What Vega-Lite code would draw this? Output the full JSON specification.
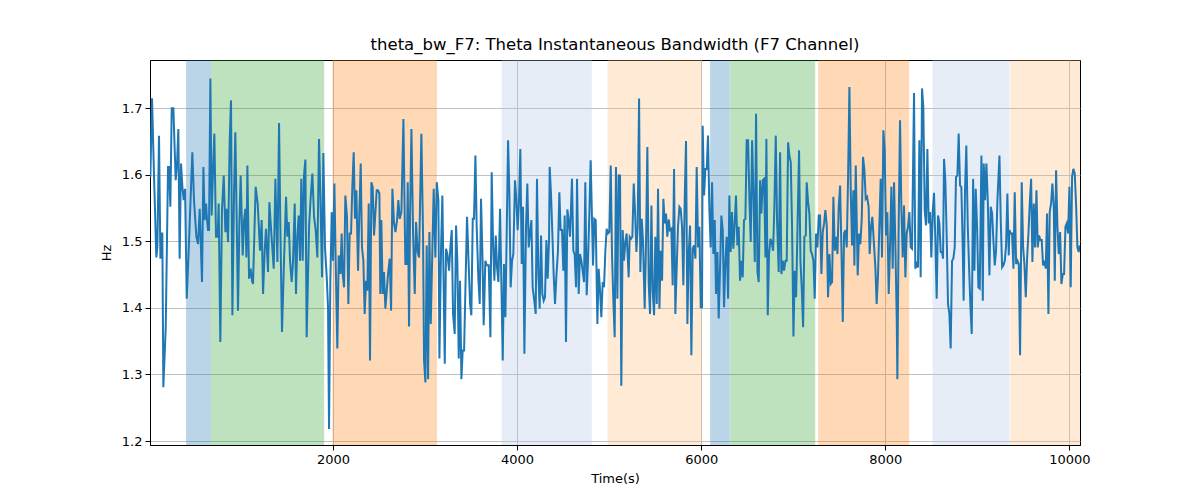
{
  "$schema": "https://vega.github.io/schema/vega-lite/v6.json",
  "description": "theta_bw_F7 instantaneous bandwidth over time with shaded segments",
  "autosize": {"type": "none"},
  "padding": {"left": 150, "top": 60, "right": 120, "bottom": 55},
  "width": 930,
  "height": 385,
  "background": "white",
  "title": {
    "text": "theta_bw_F7: Theta Instantaneous Bandwidth (F7 Channel)",
    "font": "DejaVu Sans",
    "fontSize": 16.5,
    "fontWeight": "normal",
    "color": "black",
    "offset": 7
  },
  "config": {
    "view": {"stroke": "black", "strokeWidth": 1},
    "axis": {
      "labelFont": "DejaVu Sans",
      "titleFont": "DejaVu Sans",
      "labelFontSize": 13,
      "titleFontSize": 13,
      "titleFontWeight": "normal",
      "labelColor": "black",
      "titleColor": "black",
      "domainColor": "black",
      "tickColor": "black",
      "tickSize": 5,
      "labelPadding": 3,
      "grid": true,
      "gridColor": "#b0b0b0",
      "gridWidth": 0.8
    }
  },
  "datasets": {
    "bands": [
      {"s": 410, "e": 668, "k": "a"},
      {"s": 679, "e": 1899, "k": "c"},
      {"s": 2000, "e": 3123, "k": "e"},
      {"s": 3837, "e": 4806, "k": "b"},
      {"s": 4988, "e": 6002, "k": "d"},
      {"s": 6103, "e": 6306, "k": "a"},
      {"s": 6320, "e": 7233, "k": "c"},
      {"s": 7277, "e": 8254, "k": "e"},
      {"s": 8518, "e": 9345, "k": "b"},
      {"s": 9363, "e": 10115, "k": "d"}
    ],
    "sig": [
      {"t":16,"v":1.597},{"t":34,"v":1.715},{"t":56,"v":1.597},{"t":81,"v":1.476},{"t":92,"v":1.491},{"t":110,"v":1.659},{"t":125,"v":1.474},{"t":135,"v":1.512},{"t":146,"v":1.512},{"t":157,"v":1.281},{"t":183,"v":1.371},{"t":208,"v":1.612},{"t":219,"v":1.612},{"t":233,"v":1.552},{"t":248,"v":1.700},{"t":266,"v":1.700},{"t":291,"v":1.592},{"t":306,"v":1.617},{"t":320,"v":1.669},{"t":334,"v":1.474},{"t":349,"v":1.617},{"t":364,"v":1.582},{"t":378,"v":1.562},{"t":393,"v":1.579},{"t":411,"v":1.414},{"t":432,"v":1.486},{"t":450,"v":1.552},{"t":472,"v":1.634},{"t":490,"v":1.562},{"t":516,"v":1.507},{"t":534,"v":1.496},{"t":552,"v":1.549},{"t":577,"v":1.439},{"t":592,"v":1.612},{"t":606,"v":1.532},{"t":621,"v":1.557},{"t":632,"v":1.532},{"t":642,"v":1.517},{"t":653,"v":1.517},{"t":668,"v":1.745},{"t":682,"v":1.539},{"t":697,"v":1.607},{"t":711,"v":1.662},{"t":729,"v":1.507},{"t":747,"v":1.507},{"t":758,"v":1.557},{"t":776,"v":1.349},{"t":794,"v":1.547},{"t":813,"v":1.599},{"t":831,"v":1.514},{"t":842,"v":1.549},{"t":860,"v":1.499},{"t":878,"v":1.652},{"t":892,"v":1.712},{"t":907,"v":1.389},{"t":925,"v":1.572},{"t":939,"v":1.664},{"t":954,"v":1.532},{"t":968,"v":1.396},{"t":983,"v":1.527},{"t":997,"v":1.599},{"t":1019,"v":1.479},{"t":1034,"v":1.532},{"t":1048,"v":1.549},{"t":1059,"v":1.476},{"t":1070,"v":1.614},{"t":1088,"v":1.444},{"t":1106,"v":1.459},{"t":1120,"v":1.441},{"t":1131,"v":1.436},{"t":1146,"v":1.512},{"t":1160,"v":1.582},{"t":1182,"v":1.557},{"t":1207,"v":1.486},{"t":1225,"v":1.532},{"t":1240,"v":1.421},{"t":1258,"v":1.486},{"t":1272,"v":1.519},{"t":1294,"v":1.454},{"t":1309,"v":1.559},
      {"t":1330,"v":1.512},{"t":1356,"v":1.459},{"t":1374,"v":1.594},{"t":1396,"v":1.469},{"t":1414,"v":1.678},{"t":1428,"v":1.522},{"t":1446,"v":1.364},{"t":1468,"v":1.471},{"t":1490,"v":1.567},{"t":1504,"v":1.507},{"t":1519,"v":1.529},{"t":1533,"v":1.471},{"t":1551,"v":1.439},{"t":1566,"v":1.471},{"t":1584,"v":1.557},{"t":1598,"v":1.421},{"t":1613,"v":1.507},{"t":1627,"v":1.539},{"t":1642,"v":1.471},{"t":1656,"v":1.594},{"t":1671,"v":1.471},{"t":1685,"v":1.599},{"t":1700,"v":1.623},{"t":1714,"v":1.356},{"t":1740,"v":1.522},{"t":1758,"v":1.567},{"t":1776,"v":1.602},{"t":1794,"v":1.537},{"t":1812,"v":1.517},{"t":1830,"v":1.476},{"t":1848,"v":1.654},{"t":1863,"v":1.567},{"t":1881,"v":1.446},{"t":1895,"v":1.633},{"t":1913,"v":1.491},{"t":1932,"v":1.446},{"t":1946,"v":1.401},{"t":1957,"v":1.218},{"t":1971,"v":1.439},{"t":1986,"v":1.544},{"t":2000,"v":1.471},{"t":2015,"v":1.587},{"t":2029,"v":1.471},{"t":2047,"v":1.339},{"t":2062,"v":1.479},{"t":2080,"v":1.451},{"t":2094,"v":1.512},{"t":2105,"v":1.451},{"t":2120,"v":1.431},{"t":2134,"v":1.569},{"t":2152,"v":1.537},{"t":2167,"v":1.406},{"t":2181,"v":1.512},{"t":2196,"v":1.512},{"t":2210,"v":1.582},{"t":2225,"v":1.634},{"t":2239,"v":1.534},{"t":2254,"v":1.577},{"t":2272,"v":1.456},{"t":2286,"v":1.542},{"t":2301,"v":1.617},{"t":2315,"v":1.491},{"t":2330,"v":1.471},{"t":2344,"v":1.391},{"t":2359,"v":1.441},{"t":2373,"v":1.426},{"t":2388,"v":1.557},{"t":2402,"v":1.321},{"t":2417,"v":1.589},{"t":2431,"v":1.582},{"t":2446,"v":1.509},{"t":2460,"v":1.542},{"t":2475,"v":1.577},{"t":2489,"v":1.577},{"t":2504,"v":1.572},{"t":2514,"v":1.421},{"t":2525,"v":1.532},{"t":2540,"v":1.421},{"t":2554,"v":1.454},{"t":2569,"v":1.399},{"t":2598,"v":1.451},{"t":2616,"v":1.474},
      {"t":2631,"v":1.396},{"t":2645,"v":1.579},{"t":2663,"v":1.527},{"t":2678,"v":1.514},{"t":2696,"v":1.532},{"t":2710,"v":1.562},{"t":2725,"v":1.534},{"t":2743,"v":1.544},{"t":2765,"v":1.684},{"t":2786,"v":1.466},{"t":2801,"v":1.466},{"t":2812,"v":1.589},{"t":2826,"v":1.372},{"t":2837,"v":1.537},{"t":2852,"v":1.669},{"t":2870,"v":1.512},{"t":2888,"v":1.421},{"t":2902,"v":1.529},{"t":2920,"v":1.484},{"t":2935,"v":1.476},{"t":2960,"v":1.662},{"t":2978,"v":1.512},{"t":2989,"v":1.321},{"t":3004,"v":1.288},{"t":3018,"v":1.494},{"t":3033,"v":1.293},{"t":3047,"v":1.514},{"t":3062,"v":1.376},{"t":3076,"v":1.466},{"t":3094,"v":1.579},{"t":3112,"v":1.476},{"t":3127,"v":1.589},{"t":3145,"v":1.562},{"t":3156,"v":1.324},{"t":3174,"v":1.491},{"t":3188,"v":1.569},{"t":3214,"v":1.316},{"t":3228,"v":1.489},{"t":3243,"v":1.481},{"t":3261,"v":1.456},{"t":3275,"v":1.491},{"t":3290,"v":1.517},{"t":3304,"v":1.391},{"t":3322,"v":1.361},{"t":3337,"v":1.524},{"t":3351,"v":1.471},{"t":3366,"v":1.324},{"t":3380,"v":1.441},{"t":3395,"v":1.293},{"t":3409,"v":1.336},{"t":3424,"v":1.336},{"t":3438,"v":1.426},{"t":3456,"v":1.537},{"t":3475,"v":1.461},{"t":3489,"v":1.406},{"t":3503,"v":1.389},{"t":3518,"v":1.534},{"t":3532,"v":1.534},{"t":3547,"v":1.629},{"t":3561,"v":1.522},{"t":3579,"v":1.444},{"t":3594,"v":1.406},{"t":3608,"v":1.564},{"t":3623,"v":1.481},{"t":3637,"v":1.374},{"t":3655,"v":1.471},{"t":3670,"v":1.464},{"t":3692,"v":1.464},{"t":3710,"v":1.356},{"t":3724,"v":1.604},{"t":3739,"v":1.496},{"t":3753,"v":1.441},{"t":3768,"v":1.509},{"t":3782,"v":1.461},{"t":3797,"v":1.439},{"t":3815,"v":1.549},{"t":3829,"v":1.439},{"t":3844,"v":1.321},{"t":3858,"v":1.466},{"t":3873,"v":1.386},{"t":3887,"v":1.512},{"t":3902,"v":1.652},
      {"t":3916,"v":1.572},{"t":3930,"v":1.431},{"t":3945,"v":1.471},{"t":3959,"v":1.481},{"t":3977,"v":1.592},{"t":3992,"v":1.562},{"t":4006,"v":1.517},{"t":4021,"v":1.562},{"t":4035,"v":1.639},{"t":4050,"v":1.466},{"t":4064,"v":1.552},{"t":4079,"v":1.331},{"t":4097,"v":1.522},{"t":4111,"v":1.587},{"t":4126,"v":1.491},{"t":4140,"v":1.512},{"t":4155,"v":1.532},{"t":4169,"v":1.431},{"t":4184,"v":1.414},{"t":4202,"v":1.391},{"t":4216,"v":1.594},{"t":4231,"v":1.451},{"t":4245,"v":1.399},{"t":4260,"v":1.509},{"t":4274,"v":1.421},{"t":4289,"v":1.411},{"t":4303,"v":1.416},{"t":4318,"v":1.502},{"t":4332,"v":1.444},{"t":4347,"v":1.502},{"t":4354,"v":1.612},{"t":4368,"v":1.572},{"t":4383,"v":1.512},{"t":4397,"v":1.451},{"t":4412,"v":1.406},{"t":4426,"v":1.446},{"t":4444,"v":1.486},{"t":4459,"v":1.574},{"t":4473,"v":1.517},{"t":4488,"v":1.517},{"t":4502,"v":1.456},{"t":4517,"v":1.539},{"t":4531,"v":1.349},{"t":4546,"v":1.548},{"t":4560,"v":1.532},{"t":4575,"v":1.507},{"t":4586,"v":1.552},{"t":4596,"v":1.594},{"t":4611,"v":1.486},{"t":4625,"v":1.481},{"t":4640,"v":1.431},{"t":4651,"v":1.594},{"t":4669,"v":1.421},{"t":4683,"v":1.481},{"t":4698,"v":1.471},{"t":4712,"v":1.456},{"t":4727,"v":1.439},{"t":4741,"v":1.589},{"t":4756,"v":1.419},{"t":4770,"v":1.471},{"t":4785,"v":1.542},{"t":4799,"v":1.622},{"t":4814,"v":1.532},{"t":4825,"v":1.464},{"t":4839,"v":1.534},{"t":4854,"v":1.532},{"t":4872,"v":1.376},{"t":4886,"v":1.459},{"t":4901,"v":1.426},{"t":4915,"v":1.386},{"t":4930,"v":1.439},{"t":4944,"v":1.431},{"t":4959,"v":1.486},{"t":4973,"v":1.519},{"t":4988,"v":1.512},{"t":5002,"v":1.514},{"t":5017,"v":1.614},{"t":5031,"v":1.481},{"t":5045,"v":1.414},{"t":5060,"v":1.356},{"t":5074,"v":1.612},{"t":5089,"v":1.414},{"t":5103,"v":1.599},{"t":5118,"v":1.599},{"t":5132,"v":1.283},{"t":5147,"v":1.517},{"t":5161,"v":1.471},{"t":5176,"v":1.499},{"t":5190,"v":1.512},{"t":5212,"v":1.446},
      {"t":5223,"v":1.507},{"t":5238,"v":1.504},{"t":5252,"v":1.507},{"t":5267,"v":1.587},{"t":5281,"v":1.547},{"t":5296,"v":1.484},{"t":5310,"v":1.522},{"t":5325,"v":1.715},{"t":5339,"v":1.454},{"t":5354,"v":1.534},{"t":5368,"v":1.499},{"t":5386,"v":1.399},{"t":5401,"v":1.502},{"t":5415,"v":1.642},{"t":5430,"v":1.436},{"t":5444,"v":1.391},{"t":5459,"v":1.554},{"t":5473,"v":1.426},{"t":5488,"v":1.389},{"t":5502,"v":1.507},{"t":5517,"v":1.406},{"t":5531,"v":1.579},{"t":5546,"v":1.399},{"t":5560,"v":1.486},{"t":5575,"v":1.441},{"t":5589,"v":1.564},{"t":5604,"v":1.527},{"t":5618,"v":1.542},{"t":5632,"v":1.507},{"t":5647,"v":1.533},{"t":5661,"v":1.517},{"t":5676,"v":1.519},{"t":5690,"v":1.434},{"t":5705,"v":1.609},{"t":5719,"v":1.391},{"t":5734,"v":1.461},{"t":5748,"v":1.522},{"t":5763,"v":1.552},{"t":5777,"v":1.549},{"t":5792,"v":1.522},{"t":5806,"v":1.434},{"t":5821,"v":1.564},{"t":5835,"v":1.651},{"t":5850,"v":1.376},{"t":5864,"v":1.481},{"t":5879,"v":1.524},{"t":5893,"v":1.329},{"t":5908,"v":1.489},{"t":5922,"v":1.494},{"t":5937,"v":1.474},{"t":5951,"v":1.612},{"t":5966,"v":1.491},{"t":5980,"v":1.522},{"t":5995,"v":1.401},{"t":6009,"v":1.401},{"t":6016,"v":1.674},{"t":6031,"v":1.569},{"t":6045,"v":1.609},{"t":6060,"v":1.609},{"t":6074,"v":1.659},{"t":6089,"v":1.547},{"t":6103,"v":1.491},{"t":6118,"v":1.589},{"t":6132,"v":1.481},{"t":6147,"v":1.532},{"t":6161,"v":1.421},{"t":6176,"v":1.484},{"t":6190,"v":1.384},{"t":6205,"v":1.461},{"t":6219,"v":1.539},{"t":6234,"v":1.517},{"t":6248,"v":1.401},{"t":6263,"v":1.471},{"t":6277,"v":1.507},{"t":6292,"v":1.414},{"t":6306,"v":1.569},{"t":6320,"v":1.484},{"t":6335,"v":1.544},{"t":6349,"v":1.489},{"t":6364,"v":1.527},{"t":6378,"v":1.569},{"t":6393,"v":1.494},{"t":6407,"v":1.522},{"t":6422,"v":1.441},{"t":6436,"v":1.471},{"t":6451,"v":1.446},{"t":6465,"v":1.532},{"t":6480,"v":1.534},{"t":6494,"v":1.652},{"t":6509,"v":1.652},
      {"t":6524,"v":1.562},{"t":6538,"v":1.499},{"t":6553,"v":1.652},{"t":6567,"v":1.572},{"t":6582,"v":1.469},{"t":6596,"v":1.692},{"t":6611,"v":1.454},{"t":6625,"v":1.439},{"t":6640,"v":1.592},{"t":6654,"v":1.542},{"t":6669,"v":1.592},{"t":6683,"v":1.594},{"t":6698,"v":1.476},{"t":6708,"v":1.654},{"t":6723,"v":1.389},{"t":6737,"v":1.481},{"t":6752,"v":1.504},{"t":6766,"v":1.499},{"t":6781,"v":1.486},{"t":6795,"v":1.552},{"t":6810,"v":1.659},{"t":6824,"v":1.532},{"t":6842,"v":1.454},{"t":6857,"v":1.634},{"t":6871,"v":1.451},{"t":6886,"v":1.471},{"t":6900,"v":1.456},{"t":6915,"v":1.471},{"t":6929,"v":1.471},{"t":6944,"v":1.649},{"t":6958,"v":1.629},{"t":6973,"v":1.619},{"t":6987,"v":1.522},{"t":7002,"v":1.357},{"t":7016,"v":1.456},{"t":7031,"v":1.416},{"t":7045,"v":1.512},{"t":7063,"v":1.637},{"t":7078,"v":1.471},{"t":7092,"v":1.431},{"t":7107,"v":1.371},{"t":7121,"v":1.507},{"t":7136,"v":1.509},{"t":7146,"v":1.589},{"t":7161,"v":1.559},{"t":7175,"v":1.542},{"t":7190,"v":1.486},{"t":7204,"v":1.481},{"t":7219,"v":1.471},{"t":7233,"v":1.414},{"t":7248,"v":1.512},{"t":7262,"v":1.491},{"t":7277,"v":1.539},{"t":7291,"v":1.539},{"t":7306,"v":1.451},{"t":7320,"v":1.514},{"t":7335,"v":1.527},{"t":7349,"v":1.547},{"t":7364,"v":1.524},{"t":7378,"v":1.416},{"t":7393,"v":1.481},{"t":7407,"v":1.436},{"t":7422,"v":1.439},{"t":7436,"v":1.567},{"t":7451,"v":1.486},{"t":7465,"v":1.507},{"t":7480,"v":1.481},{"t":7494,"v":1.552},{"t":7509,"v":1.584},{"t":7523,"v":1.491},{"t":7538,"v":1.379},{"t":7552,"v":1.512},{"t":7567,"v":1.517},{"t":7581,"v":1.491},{"t":7596,"v":1.599},{"t":7610,"v":1.732},{"t":7625,"v":1.572},{"t":7639,"v":1.494},{"t":7653,"v":1.577},{"t":7664,"v":1.464},{"t":7679,"v":1.614},{"t":7700,"v":1.449},{"t":7715,"v":1.512},{"t":7729,"v":1.496},{"t":7744,"v":1.534},{"t":7758,"v":1.627},{"t":7773,"v":1.607},{"t":7787,"v":1.564},{"t":7802,"v":1.567},
      {"t":7819,"v":1.552},{"t":7830,"v":1.481},{"t":7845,"v":1.522},{"t":7859,"v":1.537},{"t":7874,"v":1.502},{"t":7892,"v":1.461},{"t":7906,"v":1.406},{"t":7921,"v":1.451},{"t":7935,"v":1.522},{"t":7950,"v":1.594},{"t":7964,"v":1.476},{"t":7979,"v":1.667},{"t":7993,"v":1.637},{"t":8008,"v":1.509},{"t":8022,"v":1.544},{"t":8037,"v":1.421},{"t":8051,"v":1.491},{"t":8066,"v":1.582},{"t":8080,"v":1.459},{"t":8095,"v":1.589},{"t":8109,"v":1.496},{"t":8124,"v":1.386},{"t":8131,"v":1.293},{"t":8145,"v":1.522},{"t":8160,"v":1.682},{"t":8174,"v":1.552},{"t":8189,"v":1.476},{"t":8203,"v":1.554},{"t":8218,"v":1.446},{"t":8232,"v":1.512},{"t":8247,"v":1.522},{"t":8261,"v":1.544},{"t":8276,"v":1.491},{"t":8290,"v":1.489},{"t":8312,"v":1.723},{"t":8326,"v":1.459},{"t":8341,"v":1.466},{"t":8355,"v":1.461},{"t":8370,"v":1.652},{"t":8384,"v":1.446},{"t":8399,"v":1.730},{"t":8413,"v":1.702},{"t":8428,"v":1.547},{"t":8442,"v":1.524},{"t":8457,"v":1.639},{"t":8471,"v":1.527},{"t":8486,"v":1.544},{"t":8500,"v":1.476},{"t":8515,"v":1.544},{"t":8529,"v":1.573},{"t":8544,"v":1.499},{"t":8558,"v":1.414},{"t":8573,"v":1.539},{"t":8587,"v":1.527},{"t":8602,"v":1.484},{"t":8616,"v":1.484},{"t":8627,"v":1.474},{"t":8638,"v":1.624},{"t":8652,"v":1.592},{"t":8667,"v":1.507},{"t":8681,"v":1.406},{"t":8696,"v":1.391},{"t":8710,"v":1.339},{"t":8725,"v":1.471},{"t":8739,"v":1.474},{"t":8754,"v":1.491},{"t":8768,"v":1.597},{"t":8783,"v":1.599},{"t":8797,"v":1.662},{"t":8812,"v":1.584},{"t":8826,"v":1.582},{"t":8841,"v":1.491},{"t":8851,"v":1.411},{"t":8866,"v":1.577},{"t":8880,"v":1.644},
      {"t":8896,"v":1.522},{"t":8910,"v":1.461},{"t":8925,"v":1.401},{"t":8939,"v":1.361},{"t":8954,"v":1.594},{"t":8968,"v":1.456},{"t":8982,"v":1.579},{"t":8997,"v":1.522},{"t":9011,"v":1.431},{"t":9026,"v":1.429},{"t":9044,"v":1.629},{"t":9059,"v":1.411},{"t":9069,"v":1.617},{"t":9084,"v":1.562},{"t":9098,"v":1.617},{"t":9113,"v":1.562},{"t":9131,"v":1.449},{"t":9145,"v":1.552},{"t":9160,"v":1.542},{"t":9174,"v":1.502},{"t":9189,"v":1.464},{"t":9203,"v":1.486},{"t":9218,"v":1.562},{"t":9240,"v":1.629},{"t":9254,"v":1.532},{"t":9269,"v":1.461},{"t":9283,"v":1.464},{"t":9298,"v":1.471},{"t":9312,"v":1.494},{"t":9326,"v":1.572},{"t":9341,"v":1.479},{"t":9348,"v":1.517},{"t":9363,"v":1.512},{"t":9377,"v":1.512},{"t":9392,"v":1.459},{"t":9406,"v":1.574},{"t":9421,"v":1.466},{"t":9435,"v":1.471},{"t":9450,"v":1.466},{"t":9464,"v":1.329},{"t":9482,"v":1.589},{"t":9497,"v":1.491},{"t":9511,"v":1.466},{"t":9526,"v":1.416},{"t":9540,"v":1.474},{"t":9555,"v":1.512},{"t":9569,"v":1.557},{"t":9584,"v":1.594},{"t":9598,"v":1.469},{"t":9613,"v":1.557},{"t":9627,"v":1.491},{"t":9642,"v":1.577},{"t":9656,"v":1.491},{"t":9670,"v":1.509},{"t":9685,"v":1.502},{"t":9699,"v":1.502},{"t":9714,"v":1.464},{"t":9728,"v":1.471},{"t":9743,"v":1.459},{"t":9757,"v":1.542},{"t":9772,"v":1.391},{"t":9786,"v":1.544},{"t":9801,"v":1.557},{"t":9815,"v":1.587},{"t":9830,"v":1.552},{"t":9841,"v":1.441},{"t":9855,"v":1.607},{"t":9870,"v":1.522},{"t":9884,"v":1.481},{"t":9899,"v":1.514},{"t":9913,"v":1.436},{"t":9928,"v":1.451},{"t":9942,"v":1.451},{"t":9957,"v":1.522},{"t":9971,"v":1.527},{"t":9986,"v":1.512},{"t":10000,"v":1.582},{"t":10014,"v":1.431},{"t":10029,"v":1.597},{"t":10043,"v":1.609},{"t":10058,"v":1.602},{"t":10072,"v":1.557},{"t":10087,"v":1.491},{"t":10101,"v":1.484},{"t":10112,"v":1.494}
    ]
  },
  "layer": [
    {
      "data": {"name": "bands"},
      "mark": {"type": "rect", "opacity": 0.3, "strokeWidth": 1, "clip": true},
      "encoding": {
        "x": {
          "field": "s",
          "type": "quantitative",
          "scale": {"domain": [12, 10115], "nice": false, "zero": false},
          "axis": {"values": [2000, 4000, 6000, 8000, 10000], "format": "d", "title": "Time(s)", "titlePadding": 6}
        },
        "x2": {"field": "e"},
        "color": {
          "field": "k",
          "type": "nominal",
          "scale": {"domain": ["a", "b", "c", "d", "e"], "range": ["#1f77b4", "#aec7e8", "#2ca02c", "#ffbb78", "#ff7f0e"]},
          "legend": null
        },
        "stroke": {
          "field": "k",
          "type": "nominal",
          "scale": {"domain": ["a", "b", "c", "d", "e"], "range": ["#1f77b4", "#aec7e8", "#2ca02c", "#ffbb78", "#ff7f0e"]},
          "legend": null
        }
      }
    },
    {
      "data": {"name": "sig"},
      "mark": {"type": "line", "color": "#1f77b4", "strokeWidth": 2, "clip": true},
      "encoding": {
        "x": {"field": "t", "type": "quantitative"},
        "y": {
          "field": "v",
          "type": "quantitative",
          "scale": {"domain": [1.194, 1.7727], "nice": false, "zero": false},
          "axis": {"values": [1.2, 1.3, 1.4, 1.5, 1.6, 1.7], "format": ".1f", "title": "Hz", "titlePadding": 8}
        }
      }
    }
  ]
}
